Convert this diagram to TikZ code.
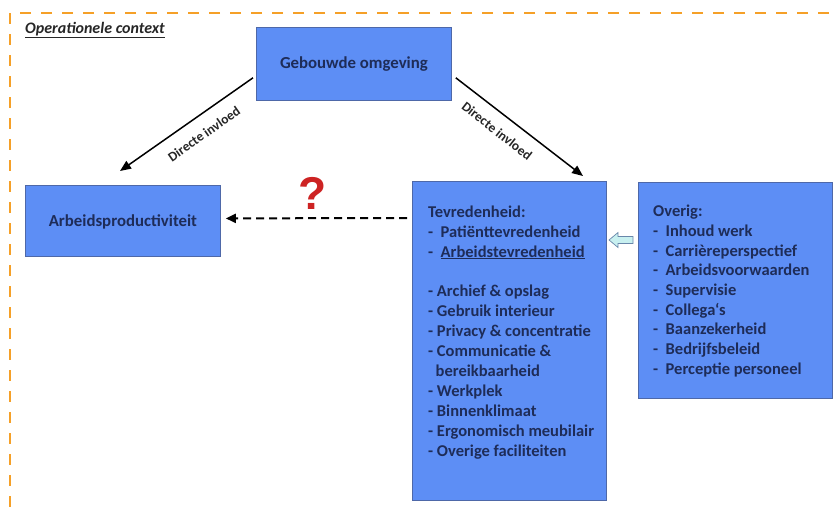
\documentclass[tikz,border=0pt]{standalone}
\usepackage{fontspec}
\setmainfont{Carlito}
\newfontfamily\qfont{Liberation Sans}
\usetikzlibrary{arrows.meta,calc}

\definecolor{boxfill}{RGB}{93,142,245}
\definecolor{boxline}{RGB}{78,104,168}
\definecolor{boxtext}{RGB}{30,44,88}
\definecolor{frameorange}{RGB}{245,160,40}
\definecolor{qred}{RGB}{205,35,35}
\definecolor{hintfill}{RGB}{200,240,240}
\definecolor{hintline}{RGB}{105,135,170}

\begin{document}
\begin{tikzpicture}[x=1pt,y=-1pt,
  blockbox/.style={draw=boxline, line width=0.8pt, fill=boxfill, anchor=north west, inner sep=0pt},
  boxlabel/.style={text=boxtext, font=\bfseries\fontsize{16.8}{19}\selectfont},
  listtext/.style={text=boxtext, font=\bfseries\fontsize{16.5}{19.9}\selectfont, align=left, inner sep=0pt, anchor=north west},
  influence/.style={line width=1.5pt, -{Triangle[length=11pt,width=9pt]}},
  influencelabel/.style={font=\bfseries\fontsize{13.5}{15}\selectfont, text=black!85, inner sep=0pt},
  dashedlink/.style={line width=2pt, dash pattern=on 8pt off 5pt, -{Triangle[length=10pt,width=9pt]}},
]
\useasboundingbox (0,0) rectangle (834,506);

% context frame, running past the right and bottom edges
\draw[frameorange, line width=2.6pt, dash pattern=on 11pt off 10pt] (850,13) -- (10,13) -- (10,520);
\node[anchor=base west, inner sep=0pt, text=black!85,
      font=\bfseries\itshape\fontsize{16}{18}\selectfont] (ctx) at (25,33) {\underline{Operationele context}};

% main boxes
\node[blockbox, minimum width=195pt, minimum height=73pt] (geb) at (256,27) {};
\node[boxlabel] (gebtext) at (geb.center) {Gebouwde omgeving};

\node[blockbox, minimum width=195pt, minimum height=71pt] (arb) at (25,185) {};
\node[boxlabel] (arbtext) at ($(arb.center)+(0,1)$) {Arbeidsproductiviteit};

\node[blockbox, minimum width=194pt, minimum height=319pt] (tev) at (412,181) {};
\node[listtext] (tevlist) at (428,205.5) {%
Tevredenheid:\\
-\ \ Patiënttevredenheid\\
-\ \ \underline{Arbeidstevredenheid}\\[19.9pt]
- Archief \& opslag\\
- Gebruik interieur\\
- Privacy \& concentratie\\
- Communicatie \&\\
\hspace*{7.5pt}bereikbaarheid\\
- Werkplek\\
- Binnenklimaat\\
- Ergonomisch meubilair\\
- Overige faciliteiten};

\node[blockbox, minimum width=194pt, minimum height=216pt] (ovr) at (638,182) {};
\node[listtext, font=\bfseries\fontsize{16.5}{19.7}\selectfont] (ovrlist) at (653,205) {%
Overig:\\
-\ \ Inhoud werk\\
-\ \ Carrièreperspectief\\
-\ \ Arbeidsvoorwaarden\\
-\ \ Supervisie\\
-\ \ Collega\char"60 s\\
-\ \ Baanzekerheid\\
-\ \ Bedrijfsbeleid\\
-\ \ Perceptie personeel};

% direct influence arrows
\coordinate (gl) at ($(geb.south west)+(-3,-23)$);
\coordinate (gr) at ($(geb.south east)+(4,-23)$);
\coordinate (al) at (120,171);
\coordinate (ar) at (583,176);
\draw[influence] (gl) -- (al);
\draw[influence] (gr) -- (ar);
\node[influencelabel, rotate=35] (inflL) at (204,134) {Directe invloed};
\node[influencelabel, rotate=-38] (inflR) at (497,131) {Directe invloed};

% uncertain link
\draw[dashedlink] ($(tev.north west)+(-5,37)$) -- ($(arb.east)+(5,-2.5)$);
\node[text=qred, font=\qfont\bfseries\fontsize{46}{46}\selectfont, inner sep=0pt] (q) at (313,193) {?};

% hollow block arrow from the other factors
\draw[hintline, fill=hintfill, line width=0.7pt]
  (609,240) -- (618,232.5) -- (618,236.5) -- (633,236.5) -- (633,243.5) -- (618,243.5) -- (618,247.5) -- cycle;
\end{tikzpicture}
\end{document}
